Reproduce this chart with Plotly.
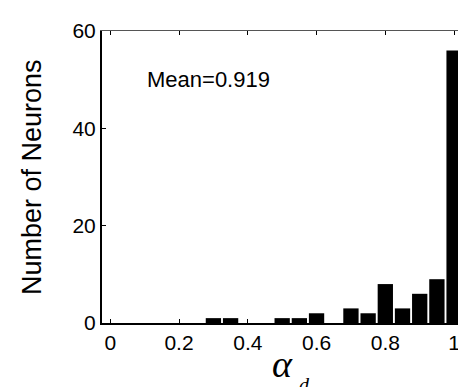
import plotly.graph_objects as go

# Histogram bin centers (alpha_d) and neuron counts
bin_centers = [0.30, 0.35, 0.50, 0.55, 0.60, 0.70, 0.75, 0.80, 0.85, 0.90, 0.95, 1.00]
counts = [1, 1, 1, 1, 2, 3, 2, 8, 3, 6, 9, 56]
x_ticks = [0, 0.2, 0.4, 0.6, 0.8, 1]
x_tick_labels = ["0", "0.2", "0.4", "0.6", "0.8", "1"]
y_ticks = [0, 20, 40, 60]
y_tick_labels = ["0", "20", "40", "60"]
mean_label = "Mean=0.919"

FONT = "Liberation Sans, Arial, Helvetica, sans-serif"
SERIF = "Liberation Serif, Times New Roman, serif"

L, R, T, B = 94, 465, 23, 314.6
W, H = 466, 387
PW, PH = R - L, B - T

def px(x):
    return (x - L) / PW

def py(y):
    return (B - y) / PH

X_RANGE = [-0.024, 1.055]

fig = go.Figure()
fig.add_trace(go.Bar(
    x=bin_centers, y=counts, width=0.0445,
    marker=dict(color="black", line=dict(width=0)),
    showlegend=False, xaxis="x", yaxis="y",
))
# dummy trace so the mirror (top/right) axes are drawn
fig.add_trace(go.Scatter(x=[None], y=[None], xaxis="x2", yaxis="y2",
                         showlegend=False, hoverinfo="skip"))

axis_common = dict(ticks="inside", ticklen=4, tickcolor="black", tickwidth=1,
                   showgrid=False, zeroline=False)

fig.update_layout(
    width=W, height=H,
    margin=dict(l=L, r=W - R, t=T, b=H - B),
    paper_bgcolor="white", plot_bgcolor="white",
    font=dict(family=FONT, size=21, color="black"),
    xaxis=dict(range=X_RANGE, tickvals=x_ticks, ticktext=x_tick_labels,
               showline=True, linecolor="black", linewidth=2,
               tickfont=dict(family=FONT, size=21), **axis_common),
    yaxis=dict(range=[0, 60], tickvals=y_ticks, ticktext=y_tick_labels,
               showline=True, linecolor="black", linewidth=2,
               tickfont=dict(family=FONT, size=21), **axis_common),
    xaxis2=dict(range=X_RANGE, tickvals=x_ticks, overlaying="x", side="top",
                showticklabels=False, showline=True, linecolor="#555555",
                linewidth=1, **axis_common),
    yaxis2=dict(range=[0, 60], tickvals=y_ticks, overlaying="y", side="right",
                showticklabels=False, showline=True, linecolor="#777777",
                linewidth=1, **axis_common),
    annotations=[
        dict(text=mean_label, xref="paper", yref="paper",
             x=px(137), y=py(71),
             xanchor="left", yanchor="middle", showarrow=False,
             font=dict(family=FONT, size=22)),
        dict(text="Number of Neurons", xref="paper", yref="paper",
             x=px(24), y=0.5, textangle=-90,
             xanchor="center", yanchor="middle", showarrow=False,
             font=dict(family=FONT, size=27)),
        dict(text="<i>α</i>", xref="paper", yref="paper",
             x=px(274), y=py(356),
             xanchor="center", yanchor="middle", showarrow=False,
             font=dict(family=SERIF, size=38)),
        dict(text="<i>d</i>", xref="paper", yref="paper",
             x=px(289), y=py(364),
             xanchor="left", yanchor="top", showarrow=False,
             font=dict(family=SERIF, size=20)),
    ],
)

fig.write_html("out.html")
